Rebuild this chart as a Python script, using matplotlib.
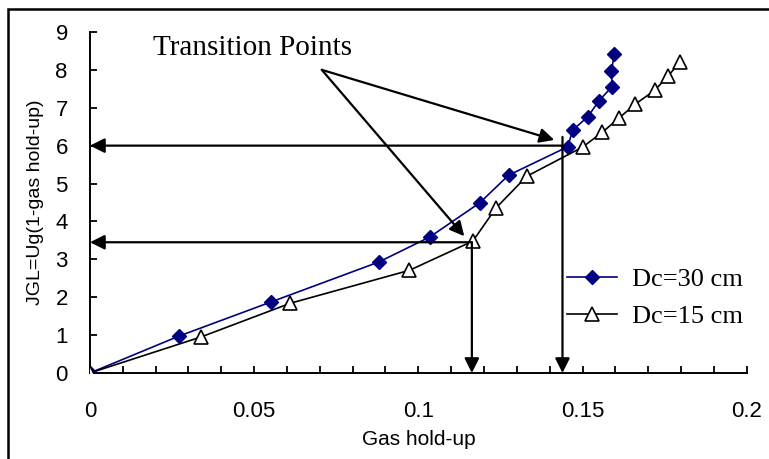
import matplotlib
matplotlib.use("Agg")
import matplotlib.pyplot as plt
from matplotlib.patches import Rectangle
from matplotlib.ticker import MultipleLocator

# Dc = 30 cm (navy diamonds)
holdup_30 = [0.0, 0.027, 0.055, 0.088, 0.1035, 0.1187, 0.1275, 0.1455, 0.147,
             0.1516, 0.155, 0.159, 0.1588, 0.1597]
jgl_30 = [0.0, 0.97, 1.87, 2.93, 3.59, 4.49, 5.22, 5.97, 6.41,
          6.76, 7.18, 7.56, 7.97, 8.42]

# Dc = 15 cm (open triangles)
holdup_15 = [0.0, 0.0338, 0.061, 0.0973, 0.1166, 0.1236, 0.133, 0.150, 0.156,
             0.161, 0.166, 0.172, 0.176, 0.1796]
jgl_15 = [0.0, 0.95, 1.84, 2.71, 3.48, 4.35, 5.19, 5.96, 6.35,
          6.72, 7.09, 7.46, 7.83, 8.2]

# transition points (x, y) and where the guide arrows end
trans_upper = (0.1439, 6.0)
trans_lower = (0.1163, 3.45)
label_xy = (0.0496, 8.57)
label_root = (0.0706, 8.0)
label_tips = [(0.1414, 6.15), (0.114, 3.61)]

fig = plt.figure(figsize=(7.69, 4.59), dpi=100)
ax = fig.add_axes([0.117, 0.1874, 0.854, 0.743])

ax.plot(holdup_30, jgl_30, color="#000080", lw=1.2, marker="D", ms=7.5,
        mfc="#000080", mec="#000080", label="Dc=30 cm", zorder=3)
ax.plot(holdup_15, jgl_15, color="black", lw=1.2, marker="^", ms=9.5,
        mfc="white", mec="black", mew=1.2, label="Dc=15 cm", zorder=3)

arrow = dict(arrowstyle="-|>", color="black", lw=1.6, mutation_scale=22,
             shrinkA=0, shrinkB=0)

# horizontal arrows to the y axis
ax.annotate("", xy=(0, trans_upper[1]), xytext=(trans_upper[0], trans_upper[1]),
            arrowprops=arrow)
ax.annotate("", xy=(0, trans_lower[1]), xytext=(trans_lower[0], trans_lower[1]),
            arrowprops=arrow)
# vertical arrows to the x axis
ax.annotate("", xy=(trans_upper[0], 0), xytext=(trans_upper[0], 6.23),
            arrowprops=arrow)
ax.annotate("", xy=(trans_lower[0], 0), xytext=(trans_lower[0], trans_lower[1]),
            arrowprops=arrow)

ax.text(label_xy[0], label_xy[1], "Transition Points", fontsize=21,
        family="Liberation Serif", ha="center", va="center")
for tip in label_tips:
    ax.annotate("", xy=tip, xytext=label_root, arrowprops=arrow)

ax.set_xlim(0, 0.2)
ax.set_ylim(0, 9)
ax.xaxis.set_minor_locator(MultipleLocator(0.01))
ax.yaxis.set_major_locator(MultipleLocator(1))
ax.set_xticks([0, 0.05, 0.1, 0.15, 0.2])
ax.set_xticklabels(["0", "0.05", "0.1", "0.15", "0.2"])
ax.tick_params(which="both", direction="in", length=5, width=1.3,
               labelsize=16)
ax.tick_params(axis="x", pad=20)
ax.tick_params(axis="y", pad=16)
for lab in ax.get_xticklabels() + ax.get_yticklabels():
    lab.set_family("Liberation Sans")

for side in ["top", "right"]:
    ax.spines[side].set_visible(False)
for side in ["left", "bottom"]:
    ax.spines[side].set_linewidth(1.4)

ax.set_xlabel("Gas hold-up", fontsize=15, family="Liberation Sans", labelpad=6)
ax.set_ylabel("JGL=Ug(1-gas hold-up)", fontsize=14, family="Liberation Sans",
              labelpad=8)

ax.legend(loc="center left", bbox_to_anchor=(0.69, 0.22), frameon=False,
          prop={"family": "Liberation Serif", "size": 19}, handlelength=1.9,
          handletextpad=0.55, labelspacing=0.5)

# outer frame of the picture (right and bottom edges fall outside)
fig.patches.append(Rectangle((8 / 769, -0.1), 1.2, 1 - 9 / 459 + 0.1,
                             transform=fig.transFigure, fill=False,
                             ec="black", lw=1.8))

fig.savefig("out.png", dpi=100)
